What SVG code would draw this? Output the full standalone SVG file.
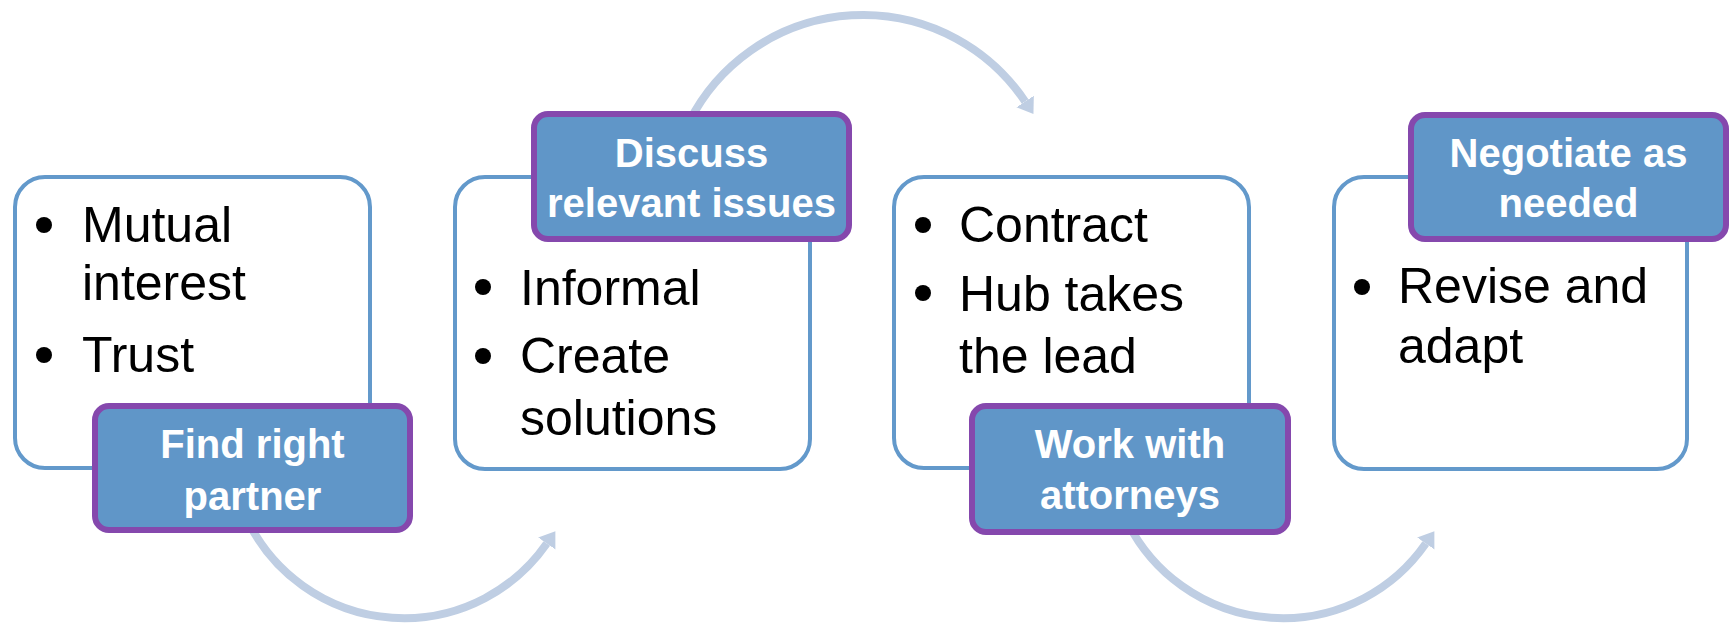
<svg xmlns="http://www.w3.org/2000/svg" width="1731" height="623" viewBox="0 0 1731 623">
<style>
.box{fill:#FFFFFF;stroke:#6399CB;stroke-width:4}
.lab{fill:#6096C8;stroke:#8548AD;stroke-width:6}
.txt{font-family:"Liberation Sans",Arial,sans-serif;font-size:50px;fill:#000000}
.lt{font-family:"Liberation Sans",Arial,sans-serif;font-size:40px;font-weight:bold;fill:#FFFFFF;text-anchor:middle}
.bul{fill:#000000}
.arc{fill:none;stroke:#BFCEE3;stroke-width:8}
</style>
<defs>
<marker id="ah" markerUnits="userSpaceOnUse" viewBox="0 -11 16 22" markerWidth="16" markerHeight="22" refX="0" refY="0" orient="auto">
<path d="M0,-10.5 L15,0 L0,10.5 z" fill="#BFCEE3"/>
</marker>
</defs>
<g id="connectors">
<path class="arc" d="M 248.9 523.2 A 174 174 0 0 0 546.8 543.5" marker-end="url(#ah)"/>
<path class="arc" d="M 689.3 121.5 A 195 195 0 0 1 1025.1 101.5" marker-end="url(#ah)"/>
<path class="arc" d="M 1127.9 523.2 A 174 174 0 0 0 1425.8 543.5" marker-end="url(#ah)"/>
</g>
<g id="step1">
<rect class="box" x="15" y="177" width="355" height="291" rx="30"/>
<circle class="bul" cx="44" cy="225" r="8"/>
<text class="txt" x="82" y="242">Mutual</text>
<text class="txt" x="82" y="300">interest</text>
<circle class="bul" cx="44" cy="355" r="8"/>
<text class="txt" x="82" y="372">Trust</text>
<rect class="lab" x="95" y="406" width="315" height="124" rx="14"/>
<text class="lt" x="252.5" y="458">Find right</text>
<text class="lt" x="252.5" y="510">partner</text>
</g>
<g id="step2">
<rect class="box" x="455" y="177" width="355" height="292" rx="30"/>
<circle class="bul" cx="483" cy="287" r="8"/>
<text class="txt" x="520" y="305">Informal</text>
<circle class="bul" cx="483" cy="356" r="8"/>
<text class="txt" x="520" y="373">Create</text>
<text class="txt" x="520" y="435">solutions</text>
<rect class="lab" x="534" y="114" width="315" height="125" rx="14"/>
<text class="lt" x="691.5" y="167">Discuss</text>
<text class="lt" x="691.5" y="217">relevant issues</text>
</g>
<g id="step3">
<rect class="box" x="894" y="177" width="355" height="291" rx="30"/>
<circle class="bul" cx="923" cy="225" r="8"/>
<text class="txt" x="959" y="242">Contract</text>
<circle class="bul" cx="923" cy="293" r="8"/>
<text class="txt" x="959" y="311">Hub takes</text>
<text class="txt" x="959" y="373">the lead</text>
<rect class="lab" x="972" y="406" width="316" height="126" rx="14"/>
<text class="lt" x="1130" y="458">Work with</text>
<text class="lt" x="1130" y="509">attorneys</text>
</g>
<g id="step4">
<rect class="box" x="1334" y="177" width="353" height="292" rx="30"/>
<circle class="bul" cx="1362" cy="287" r="8"/>
<text class="txt" x="1398" y="303">Revise and</text>
<text class="txt" x="1398" y="363">adapt</text>
<rect class="lab" x="1411" y="115" width="315" height="124" rx="14"/>
<text class="lt" x="1568.5" y="167">Negotiate as</text>
<text class="lt" x="1568.5" y="217">needed</text>
</g>
</svg>
